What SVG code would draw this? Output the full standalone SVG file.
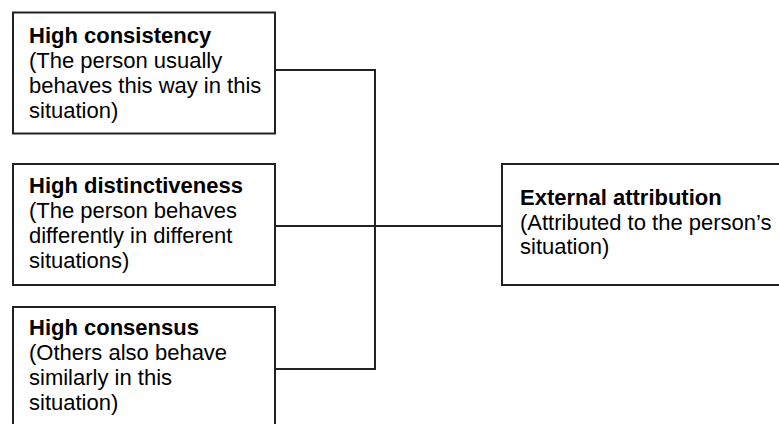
<svg xmlns="http://www.w3.org/2000/svg" width="779" height="424" viewBox="0 0 779 424">
  <style>
    .box { fill: #ffffff; stroke: #222222; stroke-width: 2; }
    .wire { fill: none; stroke: #222222; stroke-width: 2; }
    text { font-family: "Liberation Sans", Arial, Helvetica, sans-serif; font-size: 22px; fill: #000000; }
    .title { font-weight: bold; }
  </style>
  <rect width="779" height="424" fill="#ffffff"/>

  <!-- connectors joining the three cues to the attribution -->
  <g id="connectors">
    <path class="wire" d="M275 70 H375 V369 H275"/>
    <path class="wire" d="M275 226 H502"/>
  </g>

  <g id="consistency">
    <rect class="box" x="13" y="12.5" width="262" height="121"/>
    <text x="29" y="43"><tspan class="title">High consistency</tspan>
      <tspan x="29" dy="25">(The person usually</tspan>
      <tspan x="29" dy="25">behaves this way in this</tspan>
      <tspan x="29" dy="25">situation)</tspan></text>
  </g>

  <g id="distinctiveness">
    <rect class="box" x="13" y="164" width="262" height="121"/>
    <text x="29" y="193"><tspan class="title">High distinctiveness</tspan>
      <tspan x="29" dy="25">(The person behaves</tspan>
      <tspan x="29" dy="25">differently in different</tspan>
      <tspan x="29" dy="25">situations)</tspan></text>
  </g>

  <g id="consensus">
    <rect class="box" x="13" y="307" width="262" height="130"/>
    <text x="29" y="335"><tspan class="title">High consensus</tspan>
      <tspan x="29" dy="25">(Others also behave</tspan>
      <tspan x="29" dy="25">similarly in this</tspan>
      <tspan x="29" dy="25">situation)</tspan></text>
  </g>

  <g id="external-attribution">
    <rect class="box" x="502" y="164" width="300" height="121"/>
    <text x="520" y="205"><tspan class="title">External attribution</tspan>
      <tspan x="520" dy="24.5">(Attributed to the person’s</tspan>
      <tspan x="520" dy="24.5">situation)</tspan></text>
  </g>
</svg>
